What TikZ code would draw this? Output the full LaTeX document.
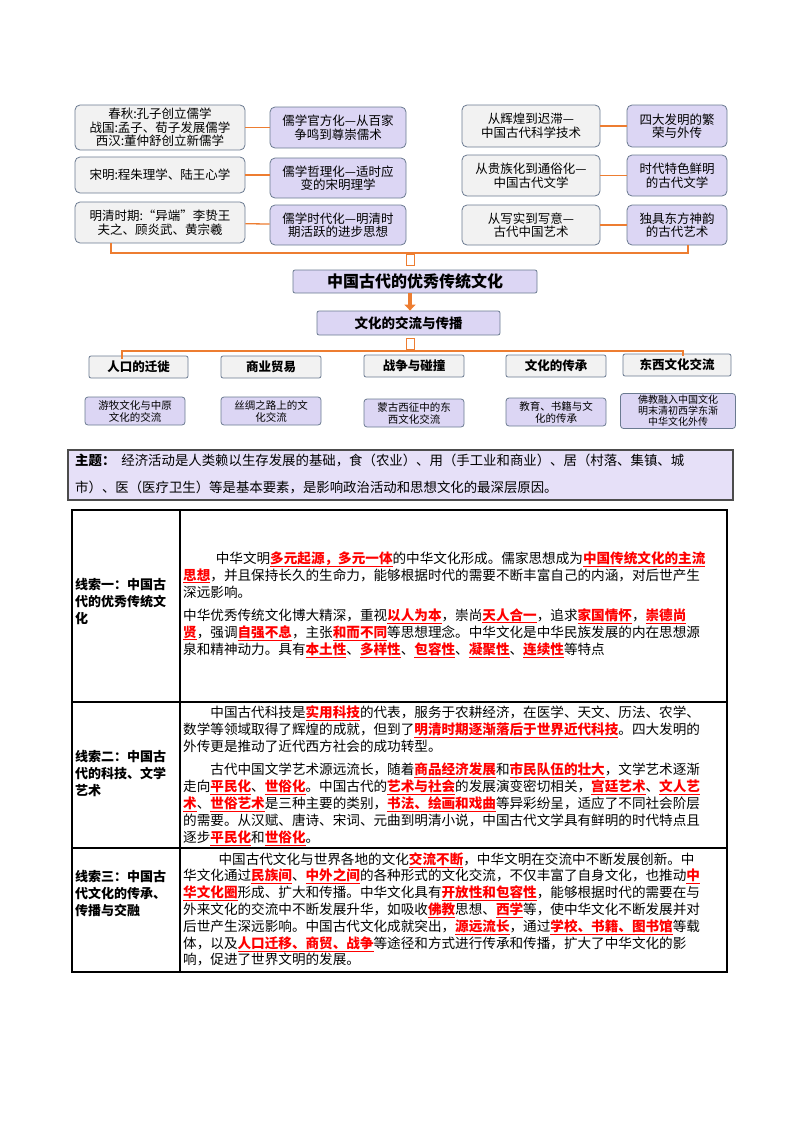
\documentclass[tikz,border=0pt]{standalone}
\usepackage{fontspec}
\setmainfont{Noto Sans CJK SC}
\usetikzlibrary{arrows.meta,calc}
\definecolor{orgc}{HTML}{ED7D31}
\definecolor{pfill}{HTML}{DCD6F4}
\definecolor{gfill}{HTML}{F2F2F2}
\definecolor{bcol}{HTML}{6A7A90}
\definecolor{tfill}{HTML}{E6E0F8}
\newcommand{\hl}[1]{{\color{red}\bfseries\underline{#1}}}
\begin{document}
\begin{tikzpicture}[x=1pt,y=-1pt,
 gbox/.style={draw=bcol,fill=gfill,rounded corners=5pt,line width=0.8pt,align=center,inner sep=1pt,font=\fontsize{12.5}{13.5}\selectfont},
 pbox/.style={draw=bcol,fill=pfill,rounded corners=5pt,line width=0.8pt,align=center,inner sep=1pt,font=\fontsize{12.5}{13.5}\selectfont},
 conn/.style={orgc,line width=1.3pt},
 body/.style={anchor=north west,align=left,inner sep=0pt,font=\fontsize{13.6}{17}\selectfont},
 lab/.style={anchor=north west,align=left,inner sep=0pt,font=\bfseries\fontsize{13}{17}\selectfont}]
\useasboundingbox (0,0) rectangle (800,1132);
% top-left
\node[gbox,minimum width=170,minimum height=45] (a1) at (160,127.5) {春秋:孔子创立儒学\\战国:孟子、荀子发展儒学\\西汉:董仲舒创立新儒学};
\node[gbox,minimum width=170,minimum height=36] (a2) at (160,175) {宋明:程朱理学、陆王心学};
\node[gbox,minimum width=170,minimum height=41] (a3) at (160,222.5) {明清时期:“异端”李贽王\\夫之、顾炎武、黄宗羲};
\node[pbox,minimum width=136,minimum height=41] (b1) at (338,127.5) {儒学官方化—从百家\\争鸣到尊崇儒术};
\node[pbox,minimum width=136,minimum height=40] (b2) at (338,178) {儒学哲理化—适时应\\变的宋明理学};
\node[pbox,minimum width=136,minimum height=40] (b3) at (338,225) {儒学时代化—明清时\\期活跃的进步思想};
\draw[conn] (a1) -- (b1); \draw[conn] (a2.east) -- (a2.east -| b2.west); \draw[conn] (a3) -- (b3);
% top-right
\node[gbox,minimum width=138,minimum height=42] (c1) at (531,126) {从辉煌到迟滞—\\中国古代科学技术};
\node[gbox,minimum width=138,minimum height=41] (c2) at (531,175.5) {从贵族化到通俗化—\\中国古代文学};
\node[gbox,minimum width=138,minimum height=40] (c3) at (531,225) {从写实到写意—\\古代中国艺术};
\node[pbox,minimum width=100,minimum height=42] (d1) at (677,126) {四大发明的繁\\荣与外传};
\node[pbox,minimum width=100,minimum height=41] (d2) at (677,175.5) {时代特色鲜明\\的古代文学};
\node[pbox,minimum width=100,minimum height=40] (d3) at (677,225) {独具东方神韵\\的古代艺术};
\draw[conn] (c1) -- (d1); \draw[conn] (c2) -- (d2); \draw[conn] (c3) -- (d3);
% bracket
\coordinate (j1) at (410,253);
\draw[conn] (a3.south -| 111,0) |- (j1) -| (d3.south -| 688,0);
\draw[orgc,line width=1pt,fill=white] (406,254) rectangle (414,265);
% main
\node[pbox,rounded corners=2pt,minimum width=244,minimum height=23,font=\bfseries\fontsize{16}{18}\selectfont] (m) at (415,281.5) {中国古代的优秀传统文化};
\node[pbox,rounded corners=2pt,minimum width=183,minimum height=24,font=\bfseries\fontsize{13.5}{15}\selectfont] (n) at (408.5,323) {文化的交流与传播};
\draw[orgc,line width=4pt,-{Triangle[width=11pt,length=6pt]}] (m.south -| 410,0) -- (n.north -| 410,0);
\draw[orgc,line width=1pt,fill=white] (406,338) rectangle (414,349);
% branches
\coordinate (h) at (410,351);
\node[gbox,rounded corners=2pt,minimum width=99,minimum height=22,font=\bfseries\fontsize{12.5}{13}\selectfont] (e1) at (138.5,367) {人口的迁徙};
\node[gbox,rounded corners=2pt,minimum width=100,minimum height=22,font=\bfseries\fontsize{12.5}{13}\selectfont] (e2) at (271,367) {商业贸易};
\node[gbox,rounded corners=2pt,minimum width=100,minimum height=22,font=\bfseries\fontsize{12.5}{13}\selectfont] (e3) at (414,366) {战争与碰撞};
\node[gbox,rounded corners=2pt,minimum width=100,minimum height=22,font=\bfseries\fontsize{12.5}{13}\selectfont] (e4) at (556,366) {文化的传承};
\node[gbox,rounded corners=2pt,minimum width=108,minimum height=22,font=\bfseries\fontsize{12.5}{13}\selectfont] (e5) at (677,365) {东西文化交流};
\draw[conn] (122,359) |- (h) -| (683,356);
\node[pbox,rounded corners=3pt,minimum width=100,minimum height=28,font=\fontsize{10.5}{12}\selectfont] (f1) at (135,411) {游牧文化与中原\\文化的交流};
\node[pbox,rounded corners=3pt,minimum width=100,minimum height=28,font=\fontsize{10.5}{12}\selectfont] (f2) at (271,411) {丝绸之路上的文\\化交流};
\node[pbox,rounded corners=3pt,minimum width=100,minimum height=28,font=\fontsize{10.5}{12}\selectfont] (f3) at (414,413) {蒙古西征中的东\\西文化交流};
\node[pbox,rounded corners=3pt,minimum width=100,minimum height=28,font=\fontsize{10.5}{12}\selectfont] (f4) at (556,412) {教育、书籍与文\\化的传承};
\node[pbox,rounded corners=3pt,minimum width=115,minimum height=35,font=\fontsize{10}{11}\selectfont] (f5) at (678,411) {佛教融入中国文化\\明末清初西学东渐\\中华文化外传};
\foreach \i in {1,2,3,4,5} \draw[conn] ($(e\i.south)+(0,4)$) -- ($(e\i.south)+(0,4)$ |- f\i.north);
% theme
\node[draw=black!70,fill=tfill,line width=1.2pt,minimum width=665,minimum height=50,inner sep=0pt] (t) at (400.5,475) {};
\node[anchor=north west,align=left,inner sep=0pt,font=\fontsize{13.4}{27}\selectfont] (tt) at (75,454) {{\bfseries 主题：}\ \ 经济活动是人类赖以生存发展的基础，食（农业）、用（手工业和商业）、居（村落、集镇、城\\市）、医（医疗卫生）等是基本要素，是影响政治活动和思想文化的最深层原因。};
% table
\draw[line width=1.6pt] (72,510) rectangle (727,972);
\draw[line width=1.2pt] (180,510) -- (180,972);
\draw[line width=1.2pt] (72,702) -- (727,702);
\draw[line width=1.2pt] (72,848) -- (727,848);
\node[lab] (l1) at (75,578) {线索一：中国古\\代的优秀传统文\\化};
\node[lab] (l2) at (75,750) {线索二：中国古\\代的科技、文学\\艺术};
\node[lab] (l3) at (75,870) {线索三：中国古\\代文化的传承、\\传播与交融};
\node[body] (r1) at (183,551) {\hspace*{2.4em}中华文明\hl{多元起源，多元一体}的中华文化形成。儒家思想成为\hl{中国传统文化的主流}\\
\hl{思想}，并且保持长久的生命力，能够根据时代的需要不断丰富自己的内涵，对后世产生\\
深远影响。\\[6pt]
中华优秀传统文化博大精深，重视\hl{以人为本}，崇尚\hl{天人合一}，追求\hl{家国情怀}，\hl{崇德尚}\\
\hl{贤}，强调\hl{自强不息}，主张\hl{和而不同}等思想理念。中华文化是中华民族发展的内在思想源\\
泉和精神动力。具有\hl{本土性}、\hl{多样性}、\hl{包容性}、\hl{凝聚性}、\hl{连续性}等特点};
\node[body] (r2) at (183,705) {\hspace*{2em}中国古代科技是\hl{实用科技}的代表，服务于农耕经济，在医学、天文、历法、农学、\\
数学等领域取得了辉煌的成就，但到了\hl{明清时期逐渐落后于世界近代科技}。四大发明的\\
外传更是推动了近代西方社会的成功转型。\\[6pt]
\hspace*{2em}古代中国文学艺术源远流长，随着\hl{商品经济发展}和\hl{市民队伍的壮大}，文学艺术逐渐\\
走向\hl{平民化}、\hl{世俗化}。中国古代的\hl{艺术与社会}的发展演变密切相关，\hl{宫廷艺术}、\hl{文人艺}\\
\hl{术}、\hl{世俗艺术}是三种主要的类别，\hl{书法、绘画和戏曲}等异彩纷呈，适应了不同社会阶层\\
的需要。从汉赋、唐诗、宋词、元曲到明清小说，中国古代文学具有鲜明的时代特点且\\
逐步\hl{平民化}和\hl{世俗化}。};
\node[body,font=\fontsize{13.6}{16.8}\selectfont] (r3) at (183,852) {\hspace*{2.6em}中国古代文化与世界各地的文化\hl{交流不断}，中华文明在交流中不断发展创新。中\\
华文化通过\hl{民族间}、\hl{中外之间}的各种形式的文化交流，不仅丰富了自身文化，也推动\hl{中}\\
\hl{华文化圈}形成、扩大和传播。中华文化具有\hl{开放性和包容性}，能够根据时代的需要在与\\
外来文化的交流中不断发展升华，如吸收\hl{佛教}思想、\hl{西学}等，使中华文化不断发展并对\\
后世产生深远影响。中国古代文化成就突出，\hl{源远流长}，通过\hl{学校、书籍、图书馆}等载\\
体，以及\hl{人口迁移、商贸、战争}等途径和方式进行传承和传播，扩大了中华文化的影\\
响，促进了世界文明的发展。};
\end{tikzpicture}
\end{document}
